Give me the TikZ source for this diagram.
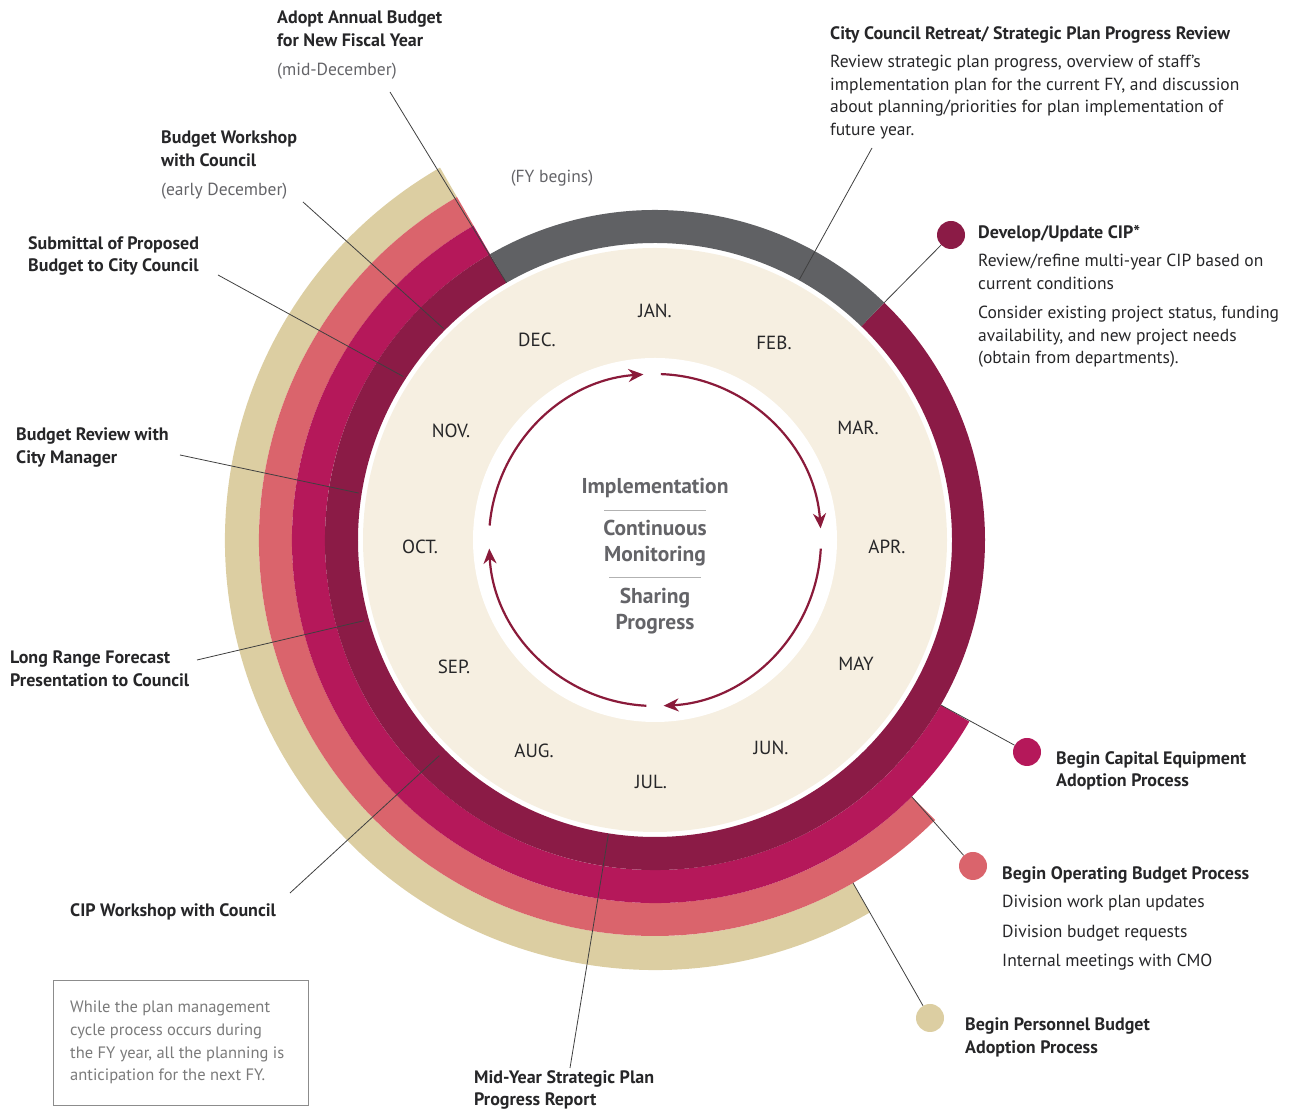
\documentclass[tikz,border=0pt]{standalone}
\usepackage{fontspec}
\setmainfont{PT Sans}
\usetikzlibrary{calc,positioning,arrows.meta}

\definecolor{ringgray}{RGB}{96,97,100}
\definecolor{ringdark}{RGB}{139,27,70}
\definecolor{ringmag}{RGB}{181,24,90}
\definecolor{ringsalmon}{RGB}{218,100,108}
\definecolor{ringtan}{RGB}{220,206,162}
\definecolor{cream}{RGB}{246,239,225}
\definecolor{arrowred}{RGB}{138,26,58}
\definecolor{textdark}{RGB}{38,38,40}
\definecolor{textgray}{RGB}{100,100,104}

% filled piece of a ring: colour, from angle, to angle, inner radius, outer radius
\newcommand{\ringsector}[5]{%
  \fill[#1] (#2:#4) arc[start angle=#2, end angle=#3, radius=#4]
    -- (#3:#5) arc[start angle=#3, end angle=#2, radius=#5] -- cycle;}

\tikzset{
  headtext/.style={font=\bfseries\fontsize{18}{22.5}\selectfont, text=textdark,
    align=left, anchor=north west, inner sep=0pt},
  bodytext/.style={font=\fontsize{17.5}{22.5}\selectfont, text=textdark,
    align=left, anchor=north west, inner sep=0pt},
  month/.style={font=\fontsize{19}{22}\selectfont, text=textdark, inner sep=0pt},
  hub/.style={font=\bfseries\fontsize{21.5}{26}\selectfont, text=textgray, inner sep=0pt},
  leader/.style={draw=black!75, line width=0.8pt},
  dot/.style={circle, minimum width=28pt, inner sep=0pt},
  cyclearrow/.style={draw=arrowred, line width=2.2pt, ->},
}

\begin{document}
\begin{tikzpicture}[x=1pt, y=1pt, >={Stealth[length=15pt,width=13pt]}]
  \useasboundingbox (0,0) rectangle (1291,1110);

  \begin{scope}[shift={(655,570)}]
  \ringsector{ringtan}{-60}{-240}{396pt}{430pt}
  \ringsector{ringsalmon}{-45}{-240}{363pt}{396pt}
  \ringsector{ringmag}{-30}{-240}{330pt}{363pt}
  \ringsector{ringdark}{46}{-240}{297pt}{330pt}
  \ringsector{ringgray}{120}{46}{297pt}{330pt}

  \fill[cream] (0,0) circle[radius=292pt];
  \fill[white] (0,0) circle[radius=182pt];

  %% where the leaders meet the rings
  \coordinate (adoptto) at (120:297pt);
  \coordinate (workshopto) at (135:299pt);
  \coordinate (submittalto) at (147:300pt);
  \coordinate (reviewto) at (171:300pt);
  \coordinate (forecastto) at (195.5:302pt);
  \coordinate (cipwsto) at (225:305pt);
  \coordinate (midyearto) at (261:298pt);
  \coordinate (retreatto) at (61:298pt);
  \coordinate (cipto) at (46:330pt);
  \coordinate (capitalto) at (-30:330pt);
  \coordinate (operatingto) at (-45:363pt);
  \coordinate (personnelto) at (-60:396pt);

  %% cycle arrows
  \draw[cyclearrow] (175:166pt) arc[start angle=175, end angle=94, radius=166pt];
  \draw[cyclearrow] (88:166pt) arc[start angle=88, end angle=4, radius=166pt];
  \draw[cyclearrow] (-3:166pt) arc[start angle=-3, end angle=-87, radius=166pt];
  \draw[cyclearrow] (-93:166pt) arc[start angle=-93, end angle=-177, radius=166pt];
  \end{scope}

  %% months
  \node[month] (jan) at (655,799) {JAN.};
  \node[month] (feb) at (774,767) {FEB.};
  \node[month] (mar) at (858,682) {MAR.};
  \node[month] (apr) at (887,563) {APR.};
  \node[month] (may) at (856,446) {MAY};
  \node[month] (jun) at (771,362) {JUN.};
  \node[month] (jul) at (651,328) {JUL.};
  \node[month] (aug) at (534,359) {AUG.};
  \node[month] (sep) at (454,443) {SEP.};
  \node[month] (oct) at (420,563) {OCT.};
  \node[month] (nov) at (451,679) {NOV.};
  \node[month] (dec) at (537,770) {DEC.};

  %% hub
  \node[hub] (impl) at (655,622) {Implementation};
  \node[hub, align=center] (monit) at (655,567) {Continuous\\Monitoring};
  \node[hub, align=center] (share) at (655,499) {Sharing\\Progress};
  \draw[black!30, line width=0.8pt] (604,600) -- (706,600);
  \draw[black!30, line width=0.8pt] (609,533) -- (701,533);

  \node[bodytext, anchor=center, text=textgray] (fy) at (552,932) {(FY begins)};

  %% left side
  \node[headtext] (adopt) at (277,1099) {Adopt Annual Budget\\for New Fiscal Year};
  \node[bodytext, text=textgray] (adoptdate) at (277,1047) {(mid-December)};
  \coordinate (adoptfrom) at (390,1018);

  \node[headtext] (workshop) at (161,979) {Budget Workshop\\with Council};
  \node[bodytext, text=textgray] (workshopdate) at (161,927) {(early December)};
  \coordinate (workshopfrom) at (303,908);

  \node[headtext] (submittal) at (28,874) {Submittal of Proposed\\Budget to City Council};
  \coordinate (submittalfrom) at (218,835);

  \node[headtext] (review) at (16,682) {Budget Review with\\City Manager};
  \coordinate (reviewfrom) at (180,655);

  \node[headtext] (forecast) at (10,459) {Long Range Forecast\\Presentation to Council};
  \coordinate (forecastfrom) at (197,450);

  \node[headtext] (cipws) at (70,207) {CIP Workshop with Council};
  \coordinate (cipwsfrom) at (290,217);

  \node[headtext] (midyear) at (474,40) {Mid-Year Strategic Plan\\Progress Report};
  \coordinate (midyearfrom) at (570,42);

  \node[draw=black!45, line width=0.8pt, minimum width=255pt, minimum height=125pt,
    anchor=north west, inner sep=0pt] (notebox) at (53,130) {};
  \node[bodytext, font=\fontsize{16.5}{22.7}\selectfont, text=black!52] (note) at (70,109)
    {While the plan management\\cycle process occurs during\\the FY year, all the planning is\\anticipation for the next FY.};

  %% right side
  \node[headtext] (retreat) at (830,1084) {City Council Retreat/ Strategic Plan Progress Review};
  \node[bodytext] (retreatbody) at (830,1055) {Review strategic plan progress, overview of staff's\\implementation plan for the current FY, and discussion\\about planning/priorities for plan implementation of\\future year.};
  \coordinate (retreatfrom) at (872,962);

  \node[dot, fill=ringdark] (cipdot) at (951,875) {};
  \node[headtext] (ciphead) at (978,885) {Develop/Update CIP*};
  \node[bodytext] (cipbodya) at (978,856) {Review/refine multi-year CIP based on\\current conditions};
  \node[bodytext] (cipbodyb) at (978,804) {Consider existing project status, funding\\availability, and new project needs\\(obtain from departments).};

  \node[dot, fill=ringmag] (capitaldot) at (1027,358) {};
  \node[headtext] (capital) at (1056,359) {Begin Capital Equipment\\Adoption Process};

  \node[dot, fill=ringsalmon] (operatingdot) at (973,244) {};
  \node[headtext] (operating) at (1002,244) {Begin Operating Budget Process};
  \node[bodytext, font=\fontsize{17.5}{29.5}\selectfont] (operatingbody) at (1002,215) {Division work plan updates\\Division budget requests\\Internal meetings with CMO};

  \node[dot, fill=ringtan] (personneldot) at (930,92) {};
  \node[headtext] (personnel) at (965,92) {Begin Personnel Budget\\Adoption Process};

  %% leaders
  \draw[leader] (adoptfrom) -- (adoptto);
  \draw[leader] (workshopfrom) -- (workshopto);
  \draw[leader] (submittalfrom) -- (submittalto);
  \draw[leader] (reviewfrom) -- (reviewto);
  \draw[leader] (forecastfrom) -- (forecastto);
  \draw[leader] (cipwsfrom) -- (cipwsto);
  \draw[leader] (midyearfrom) -- (midyearto);
  \draw[leader] (retreatfrom) -- (retreatto);
  \draw[leader] (cipdot) -- (cipto);
  \draw[leader] (capitaldot) -- (capitalto);
  \draw[leader] (operatingdot) -- (operatingto);
  \draw[leader] (personneldot) -- (personnelto);

\end{tikzpicture}
\end{document}
